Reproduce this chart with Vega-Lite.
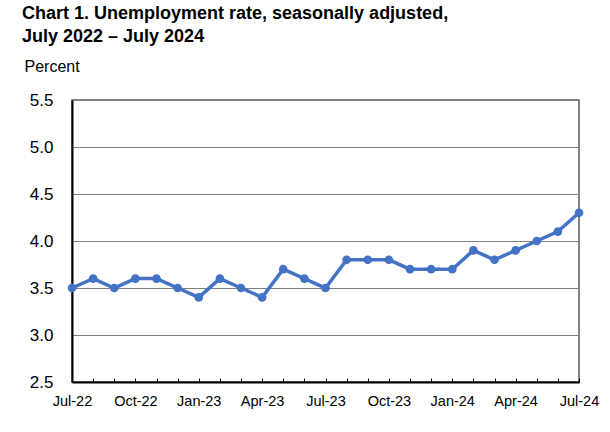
{
  "$schema": "https://vega.github.io/schema/vega-lite/v6.json",
  "width": 507,
  "height": 282,
  "autosize": "none",
  "padding": {"left": 72, "top": 100, "right": 31, "bottom": 50},
  "background": "white",
  "config": {
    "font": "Liberation Sans",
    "view": {"stroke": "#595959", "strokeWidth": 1.5}
  },
  "title": {
    "text": ["Chart 1. Unemployment rate, seasonally adjusted,", "July 2022 – July 2024"],
    "anchor": "start",
    "frame": "group",
    "dx": -50,
    "offset": 12,
    "font": "Liberation Sans",
    "fontSize": 18,
    "fontWeight": "bold",
    "lineHeight": 23,
    "color": "black"
  },
  "data": {
    "values": [
      {"month": "Jul-22", "rate": 3.5},
      {"month": "Aug-22", "rate": 3.6},
      {"month": "Sep-22", "rate": 3.5},
      {"month": "Oct-22", "rate": 3.6},
      {"month": "Nov-22", "rate": 3.6},
      {"month": "Dec-22", "rate": 3.5},
      {"month": "Jan-23", "rate": 3.4},
      {"month": "Feb-23", "rate": 3.6},
      {"month": "Mar-23", "rate": 3.5},
      {"month": "Apr-23", "rate": 3.4},
      {"month": "May-23", "rate": 3.7},
      {"month": "Jun-23", "rate": 3.6},
      {"month": "Jul-23", "rate": 3.5},
      {"month": "Aug-23", "rate": 3.8},
      {"month": "Sep-23", "rate": 3.8},
      {"month": "Oct-23", "rate": 3.8},
      {"month": "Nov-23", "rate": 3.7},
      {"month": "Dec-23", "rate": 3.7},
      {"month": "Jan-24", "rate": 3.7},
      {"month": "Feb-24", "rate": 3.9},
      {"month": "Mar-24", "rate": 3.8},
      {"month": "Apr-24", "rate": 3.9},
      {"month": "May-24", "rate": 4.0},
      {"month": "Jun-24", "rate": 4.1},
      {"month": "Jul-24", "rate": 4.3}
    ]
  },
  "mark": {
    "type": "line",
    "color": "#4472C4",
    "strokeWidth": 3.5,
    "point": {"filled": true, "size": 75, "color": "#4472C4", "opacity": 1}
  },
  "encoding": {
    "x": {
      "field": "month",
      "type": "ordinal",
      "sort": null,
      "scale": {"type": "point", "padding": 0},
      "axis": {
        "title": null,
        "labelAngle": 0,
        "labelExpr": "indexof(['Jul-22','Oct-22','Jan-23','Apr-23','Jul-23','Oct-23','Jan-24','Apr-24','Jul-24'], datum.value) >= 0 ? datum.value : ''",
        "labelFontSize": 14.5,
        "labelColor": "black",
        "labelPadding": 16,
        "labelOverlap": false,
        "labelBound": false,
        "labelFlush": false,
        "ticks": true,
        "tickSize": -4,
        "tickColor": "black",
        "tickWidth": 1,
        "domainColor": "black",
        "domainWidth": 2,
        "grid": false
      }
    },
    "y": {
      "field": "rate",
      "type": "quantitative",
      "scale": {"domain": [2.5, 5.5], "nice": false, "zero": false},
      "axis": {
        "values": [2.5, 3.0, 3.5, 4.0, 4.5, 5.0, 5.5],
        "format": ".1f",
        "title": "Percent",
        "titleAngle": 0,
        "titleAlign": "left",
        "titleBaseline": "alphabetic",
        "titleX": -48,
        "titleY": -29,
        "titleFontSize": 16,
        "titleFontWeight": "normal",
        "titleColor": "black",
        "labelFontSize": 17,
        "labelColor": "black",
        "labelPadding": 19,
        "ticks": false,
        "domainColor": "black",
        "domainWidth": 2,
        "grid": true,
        "gridColor": "#808080",
        "gridWidth": 1
      }
    }
  }
}
